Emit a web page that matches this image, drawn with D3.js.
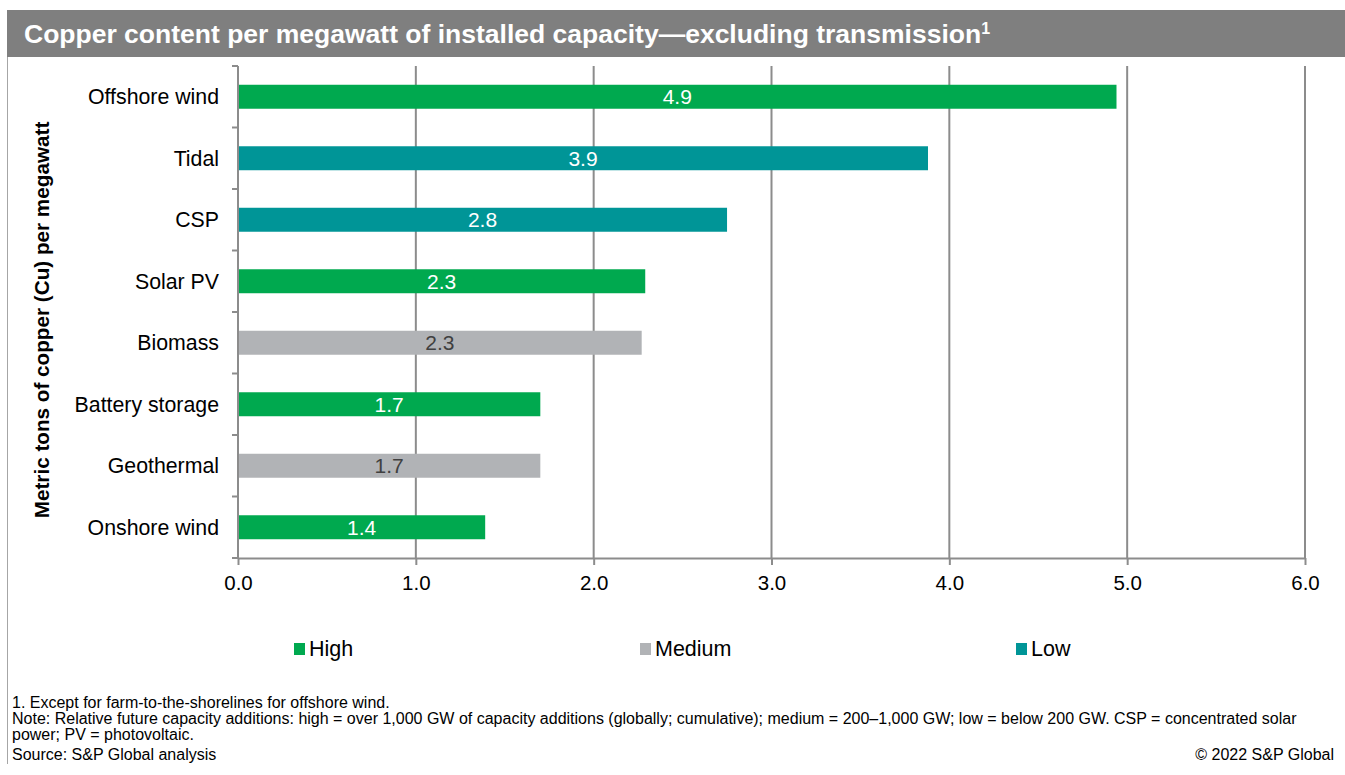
<!DOCTYPE html>
<html>
<head>
<meta charset="utf-8">
<script src="https://cdn.jsdelivr.net/npm/d3@7"></script>
<style>
  body { margin: 0; background: #fff; font-family: "Liberation Sans", Arial, sans-serif; }
</style>
</head>
<body>
<svg width="1345" height="775"></svg>
<script>
// data
const categories = ["Offshore wind", "Tidal", "CSP", "Solar PV", "Biomass", "Battery storage", "Geothermal", "Onshore wind"];
const values = [4.94, 3.88, 2.75, 2.29, 2.27, 1.70, 1.70, 1.39];
const labels = ["4.9", "3.9", "2.8", "2.3", "2.3", "1.7", "1.7", "1.4"];
const groups = ["High", "Low", "Low", "High", "Medium", "High", "Medium", "High"];
const legendKeys = ["High", "Medium", "Low"];
const xTicks = [0, 1, 2, 3, 4, 5, 6];

const colors = { High: "#00a94f", Medium: "#b1b3b6", Low: "#009597" };
const labelColors = { High: "#ffffff", Medium: "#404040", Low: "#ffffff" };

const svg = d3.select("svg");

// title bar
svg.append("rect")
    .attr("x", 7).attr("y", 10)
    .attr("width", 1338).attr("height", 47)
    .attr("fill", "#7f7f7f");
svg.append("text")
    .attr("x", 24).attr("y", 43)
    .attr("fill", "#fff")
    .attr("font-size", "26.5px")
    .attr("font-weight", "bold")
    .text("Copper content per megawatt of installed capacity\u2014excluding transmission")
    .append("tspan")
    .attr("font-size", "16px")
    .attr("dy", -9)
    .text("1");

// frame left line
svg.append("line")
    .attr("x1", 7.5).attr("x2", 7.5)
    .attr("y1", 57).attr("y2", 764)
    .attr("stroke", "#a6a6a6").attr("stroke-width", 1);

const plotLeft = 238, plotRight = 1305, plotTop = 66, plotBottom = 558;

let xScale = d3.scaleLinear().domain([0, 6]).range([plotLeft, plotRight]);
let yScale = d3.scaleBand().domain(categories).range([plotTop, plotBottom]).paddingInner(0.61).paddingOuter(0.305);

// gridlines
svg.append("g").selectAll("line")
    .data(xTicks.slice(1))
    .enter().append("line")
    .attr("x1", d => xScale(d)).attr("x2", d => xScale(d))
    .attr("y1", plotTop).attr("y2", plotBottom)
    .attr("stroke", "#8c8c8c").attr("stroke-width", 2);

// bars
const bars = svg.append("g");
bars.selectAll("rect")
    .data(categories)
    .enter().append("rect")
    .attr("x", xScale(0))
    .attr("y", d => yScale(d))
    .attr("width", (d, i) => xScale(values[i]) - xScale(0))
    .attr("height", yScale.bandwidth())
    .attr("fill", (d, i) => colors[groups[i]]);

bars.selectAll("text")
    .data(categories)
    .enter().append("text")
    .attr("x", (d, i) => (xScale(0) + xScale(values[i])) / 2)
    .attr("y", d => yScale(d) + yScale.bandwidth() / 2)
    .attr("dy", "0.36em")
    .attr("text-anchor", "middle")
    .attr("font-size", "21px")
    .attr("fill", (d, i) => labelColors[groups[i]])
    .text((d, i) => labels[i]);

// x axis
const xAxis = svg.append("g")
    .attr("transform", `translate(0, ${plotBottom})`)
    .call(d3.axisBottom(xScale).tickValues(xTicks).tickFormat(d3.format(".1f")).tickSize(7).tickSizeOuter(0));
xAxis.select(".domain").attr("stroke", "#8c8c8c").attr("stroke-width", 2);
xAxis.selectAll(".tick line").attr("stroke", "#8c8c8c").attr("stroke-width", 2);
xAxis.selectAll(".tick text")
    .attr("font-family", "Liberation Sans, Arial, sans-serif")
    .attr("font-size", "20.5px").attr("fill", "#000").attr("dy", "1.08em");

// y axis: ticks between categories
const yAxis = svg.append("g");
yAxis.append("line")
    .attr("x1", plotLeft).attr("x2", plotLeft)
    .attr("y1", plotTop).attr("y2", plotBottom)
    .attr("stroke", "#8c8c8c").attr("stroke-width", 2);
const step = yScale.step();
yAxis.selectAll("line.t")
    .data(d3.range(categories.length + 1))
    .enter().append("line")
    .attr("class", "t")
    .attr("x1", plotLeft - 6).attr("x2", plotLeft)
    .attr("y1", i => plotTop + i * step).attr("y2", i => plotTop + i * step)
    .attr("stroke", "#8c8c8c").attr("stroke-width", 2);
yAxis.selectAll("text")
    .data(categories)
    .enter().append("text")
    .attr("x", 219)
    .attr("y", d => yScale(d) + yScale.bandwidth() / 2)
    .attr("dy", "0.36em")
    .attr("text-anchor", "end")
    .attr("font-size", "21.3px")
    .attr("fill", "#000")
    .text(d => d);

// y title
svg.append("text")
    .attr("transform", "translate(49, 320) rotate(-90)")
    .attr("text-anchor", "middle")
    .attr("font-size", "20.7px")
    .attr("font-weight", "bold")
    .text("Metric tons of copper (Cu) per megawatt");

// legend
const legendX = [294, 640, 1016];
const legend = svg.append("g");
legendKeys.forEach((k, i) => {
    legend.append("rect")
        .attr("x", legendX[i]).attr("y", 643)
        .attr("width", 11).attr("height", 12)
        .attr("fill", colors[k]);
    legend.append("text")
        .attr("x", legendX[i] + 15).attr("y", 656)
        .attr("font-size", "21.5px")
        .text(k);
});

// footnotes
const notes = [
    "1. Except for farm-to-the-shorelines for offshore wind.",
    "Note: Relative future capacity additions: high = over 1,000 GW of capacity additions (globally; cumulative); medium = 200\u20131,000 GW; low = below 200 GW. CSP = concentrated solar",
    "power; PV = photovoltaic.",
    "Source: S&P Global analysis"
];
const noteY = [708, 724, 740, 760];
notes.forEach((n, i) => {
    svg.append("text")
        .attr("x", 12).attr("y", noteY[i])
        .attr("font-size", "16px")
        .attr("fill", "#000")
        .text(n);
});
svg.append("text")
    .attr("x", 1334).attr("y", 760)
    .attr("text-anchor", "end")
    .attr("font-size", "16px")
    .text("\u00a9 2022 S&P Global");
</script>
</body>
</html>
